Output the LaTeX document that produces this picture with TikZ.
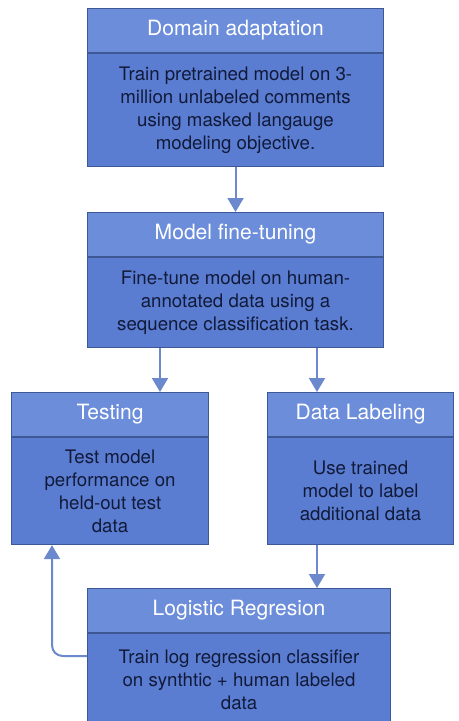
\documentclass[tikz,border=0pt]{standalone}
\usepackage{fontspec}
\setmainfont{TeX Gyre Heros}
\usetikzlibrary{arrows.meta}
\definecolor{headblue}{RGB}{108,141,218}
\definecolor{bodyblue}{RGB}{90,125,209}
\definecolor{edgeblue}{RGB}{62,88,150}
\definecolor{inkblue}{RGB}{18,26,58}
\definecolor{linkblue}{RGB}{108,137,206}
\tikzset{
  headbox/.style={draw=edgeblue, line width=0.8pt, fill=headblue, text=white,
    font=\fontsize{15.8}{19}\selectfont, inner sep=0pt, anchor=north west,
    minimum width=#1*0.75pt, minimum height=44*0.75pt},
  bodybox/.style 2 args={draw=edgeblue, line width=0.8pt, fill=bodyblue, text=inkblue,
    align=center, font=\fontsize{14}{17.3}\selectfont, inner sep=0pt, anchor=north west,
    minimum width=#1*0.75pt, minimum height=#2*0.75pt},
  flow/.style={draw=linkblue, line width=1.5pt, -{Triangle[width=12pt,length=10.5pt]}}
}
\begin{document}
\begin{tikzpicture}[x=0.75pt,y=-0.75pt]
\useasboundingbox (0,0) rectangle (459,721);
% lanes for the connectors
\coordinate (leftlane) at (160,0); \coordinate (rightlane) at (317,0);
\coordinate (loopx) at (52,0); \coordinate (loopy) at (0,656);
% boxes
\node[headbox=296] (adaptH) at (87,8) {Domain adaptation};
\node[bodybox={296}{113}] (adapt) at (adaptH.south west) {Train pretrained model on 3-\\million unlabeled comments\\using masked langauge\\modeling objective.};
\node[headbox=296] (tuneH) at (87,212) {Model fine-tuning};
\node[bodybox={296}{90}] (tune) at (tuneH.south west) {Fine-tune model on human-\\annotated data using a\\sequence classification task.};
\node[headbox=197] (testH) at (11,392) {Testing};
\node[bodybox={197}{107}] (test) at (testH.south west) {Test model\\performance on\\held-out test\\data};
\node[headbox=186] (labelH) at (267,392) {Data Labeling};
\node[bodybox={186}{107}] (label) at (labelH.south west) {Use trained\\model to label\\additional data};
\node[headbox=303] (logicH) at (87,588) {Logistic Regresion};
\node[bodybox={303}{92}] (logic) at (logicH.south west) {Train log regression classifier\\on synthtic + human labeled\\data};
% connectors
\draw[flow] (adapt.south) -- (tuneH.north);
\draw[flow] (tune.south -| leftlane) -- (testH.north -| leftlane);
\draw[flow] (tune.south -| rightlane) -- (labelH.north -| rightlane);
\draw[flow] (label.south -| rightlane) -- (logicH.north -| rightlane);
\draw[flow, rounded corners=8pt] (logic.west |- loopy) -| (test.south -| loopx);
\end{tikzpicture}
\end{document}
